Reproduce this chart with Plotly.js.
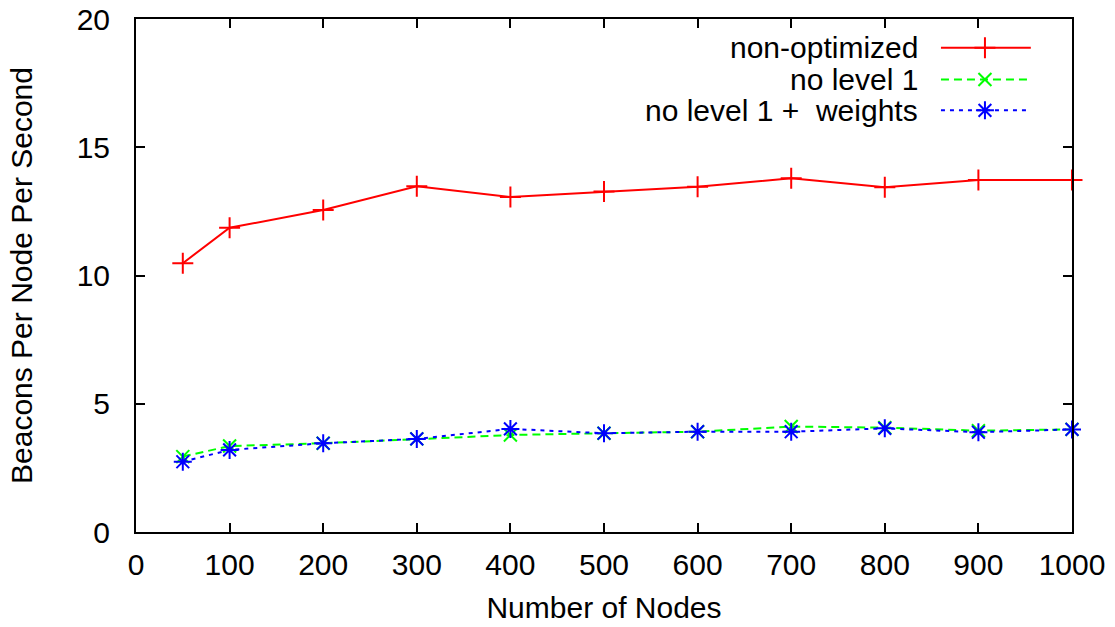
<!DOCTYPE html>
<html>
<head>
<meta charset="utf-8">
<script src="https://cdn.plot.ly/plotly-3.0.1.min.js"></script>
<style>html,body{margin:0;padding:0;background:#fff;}#chart{width:1115px;height:627px;}</style>
</head>
<body>
<div id="chart"></div>
<script>
const nodes = [50, 100, 200, 300, 400, 500, 600, 700, 800, 900, 1000];
const nonOptimized = [10.48, 11.86, 12.55, 13.48, 13.06, 13.27, 13.46, 13.79, 13.44, 13.72, 13.72];
const noLevel1 = [2.94, 3.35, 3.46, 3.63, 3.78, 3.85, 3.91, 4.11, 4.07, 3.95, 4.0];
const noLevel1Weights = [2.74, 3.2, 3.46, 3.63, 4.02, 3.85, 3.91, 3.91, 4.04, 3.89, 4.0];
const seriesNames = ['non-optimized', 'no level 1', 'no level 1 +  weights'];
const xTicks = [0, 100, 200, 300, 400, 500, 600, 700, 800, 900, 1000];
const yTicks = [0, 5, 10, 15, 20];

const styles = [
  {color: '#ff0000', dash: 'solid', symbol: 'cross-thin', size: 15},
  {color: '#00ff00', dash: '8px,5px', symbol: 'x-thin', size: 13},
  {color: '#0000ff', dash: '4px,5px', symbol: 'asterisk-open', size: 15}
];
const ys = [nonOptimized, noLevel1, noLevel1Weights];

const traces = ys.map((y, i) => ({
  x: nodes, y: y, type: 'scatter', mode: 'lines+markers', name: seriesNames[i],
  showlegend: false, cliponaxis: false,
  line: {color: styles[i].color, width: 2, dash: styles[i].dash},
  marker: {symbol: styles[i].symbol, size: styles[i].size, color: styles[i].color,
           line: {color: styles[i].color, width: 2}}
}));

// custom legend (text left of sample, as in the reference) on an overlay axis
const legRows = [0.944, 0.882, 0.822];
const annotations = [];
ys.forEach((y, i) => {
  traces.push({
    x: [0.86, 0.956], y: [legRows[i], legRows[i]], xaxis: 'x2', yaxis: 'y2',
    type: 'scatter', mode: 'lines', showlegend: false, hoverinfo: 'skip',
    line: {color: styles[i].color, width: 2, dash: styles[i].dash}
  });
  traces.push({
    x: [0.907], y: [legRows[i]], xaxis: 'x2', yaxis: 'y2',
    type: 'scatter', mode: 'markers', showlegend: false, hoverinfo: 'skip',
    marker: {symbol: styles[i].symbol, size: styles[i].size, color: styles[i].color,
             line: {color: styles[i].color, width: 2}}
  });
  annotations.push({
    xref: 'paper', yref: 'paper', x: 0.838, y: legRows[i], xanchor: 'right', yanchor: 'middle',
    text: seriesNames[i], showarrow: false, font: {size: 30, color: '#000'}
  });
});

const axisCommon = {
  showgrid: false, zeroline: false, showline: true, linecolor: '#000', linewidth: 2,
  mirror: 'allticks', ticks: 'inside', ticklen: 9, tickwidth: 2, tickcolor: '#000',
  tickfont: {size: 30, color: '#000'}
};

const layout = {
  width: 1115, height: 627,
  margin: {l: 136, r: 43, t: 19, b: 95},
  paper_bgcolor: '#fff', plot_bgcolor: '#fff',
  font: {family: 'Liberation Sans, Arial, sans-serif', size: 30, color: '#000'},
  xaxis: Object.assign({}, axisCommon, {
    range: [0, 1000], tickmode: 'array', tickvals: xTicks, ticktext: xTicks.map(String),
    ticklabelstandoff: 5,
    title: {text: 'Number of Nodes', font: {size: 30}, standoff: 17}
  }),
  yaxis: Object.assign({}, axisCommon, {
    range: [0, 20], tickmode: 'array', tickvals: yTicks, ticktext: yTicks.map(String),
    ticklabelstandoff: 18,
    title: {text: 'Beacons Per Node Per Second', font: {size: 30}, standoff: 35}
  }),
  xaxis2: {overlaying: 'x', range: [0, 1], visible: false, fixedrange: true},
  yaxis2: {overlaying: 'y', range: [0, 1], visible: false, fixedrange: true},
  annotations: annotations,
  showlegend: false
};

Plotly.newPlot('chart', traces, layout, {displayModeBar: false, staticPlot: true});
</script>
</body>
</html>
